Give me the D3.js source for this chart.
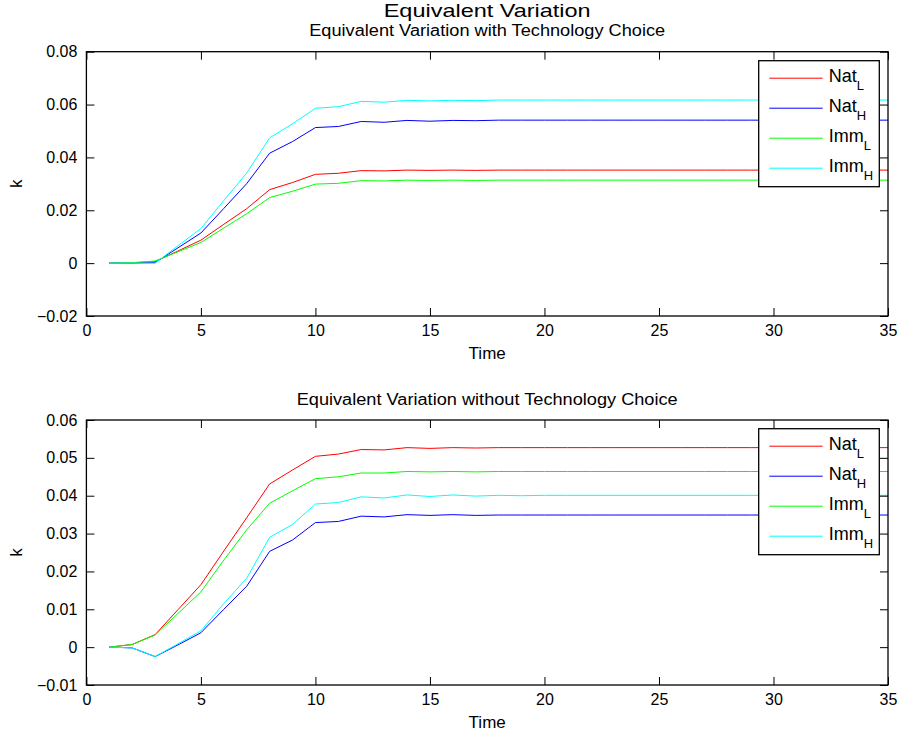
<!DOCTYPE html>
<html><head><meta charset="utf-8">
<script src="https://cdn.jsdelivr.net/npm/d3@7"></script>
<style>
html,body{margin:0;padding:0;background:#fff;}
svg text{font-family:"Liberation Sans",Arial,Helvetica,sans-serif;fill:#000;}
</style></head>
<body>
<script>
// ---------- data ----------
const time = d3.range(1, 36);
const seriesNames = ["Nat", "Nat", "Imm", "Imm"];
const seriesSubs = ["L", "H", "L", "H"];
const seriesColors = ["#ff0000", "#0000ff", "#00ff00", "#00ffff"];

function pad(arr, v) { const a = arr.slice(); while (a.length < 35) a.push(v); return a; }

// Top panel: with technology choice
const topNatL = pad([0, 0.0001, 0.0006, 0.0046, 0.0087, 0.0147, 0.0206, 0.0278, 0.0305, 0.0336, 0.0340, 0.0350, 0.0349, 0.0352, 0.0351, 0.0352, 0.0351, 0.0352], 0.0352);
const topNatH = pad([0, 0, 0.0002, 0.0058, 0.0114, 0.0207, 0.0301, 0.0416, 0.0460, 0.0513, 0.0517, 0.0536, 0.0533, 0.0540, 0.0537, 0.0540, 0.0539, 0.0541], 0.0541);
const topImmL = pad([0, 0.0002, 0.0008, 0.0043, 0.0078, 0.0133, 0.0187, 0.0248, 0.0272, 0.0299, 0.0302, 0.0312, 0.0311, 0.0314, 0.0313, 0.0314, 0.0313, 0.0314], 0.0314);
const topImmH = pad([0, 0, 0, 0.0066, 0.0131, 0.0237, 0.0341, 0.0474, 0.0527, 0.0586, 0.0592, 0.0612, 0.0609, 0.0616, 0.0614, 0.0616, 0.0615, 0.0617], 0.0617);

// Bottom panel: without technology choice
const botNatL = pad([0, 0.0007, 0.0033, 0.0099, 0.0165, 0.0254, 0.0342, 0.0431, 0.0468, 0.0504, 0.0510, 0.0522, 0.0521, 0.0527, 0.0525, 0.0527, 0.0526, 0.0527], 0.0527);
const botNatH = pad([0, -0.0002, -0.0025, 0.0006, 0.0038, 0.0100, 0.0161, 0.0253, 0.0283, 0.0329, 0.0332, 0.0346, 0.0344, 0.0350, 0.0348, 0.0350, 0.0348, 0.0349], 0.0349);
const botImmL = pad([0, 0.0007, 0.0032, 0.0089, 0.0146, 0.0230, 0.0310, 0.0380, 0.0413, 0.0445, 0.0450, 0.0460, 0.0460, 0.0464, 0.0463, 0.0464, 0.0463, 0.0464], 0.0464);
const botImmH = pad([0, -0.0002, -0.0025, 0.0009, 0.0043, 0.0115, 0.0182, 0.0290, 0.0324, 0.0378, 0.0382, 0.0397, 0.0394, 0.0402, 0.0398, 0.0402, 0.0399, 0.0401, 0.0400, 0.0401], 0.0401);

const xTicks = [0, 5, 10, 15, 20, 25, 30, 35];
const topYTicks = [-0.02, 0, 0.02, 0.04, 0.06, 0.08];
const botYTicks = [-0.01, 0, 0.01, 0.02, 0.03, 0.04, 0.05, 0.06];

const mainTitle = "Equivalent Variation";
const topTitle = "Equivalent Variation with Technology Choice";
const botTitle = "Equivalent Variation without Technology Choice";
const xLabel = "Time";
const yLabel = "k";

// ---------- drawing ----------
const W = 901, H = 737;
const svg = d3.select("body").append("svg").attr("width", W).attr("height", H);

const L = 86.4, R = 888;

function fmt(v) {
  if (v === 0) return "0";
  const s = d3.format(".2f")(Math.abs(v));
  return (v < 0 ? "\u2212" : "") + s;
}

function panel(top, bottom, yDomain, yTicks, series, title, titleY, titleLen, legTop) {
  const x = d3.scaleLinear().domain([0, 35]).range([L, R]);
  const y = d3.scaleLinear().domain(yDomain).range([bottom, top]);
  const g = svg.append("g");

  // lines
  const line = d3.line().x((d, i) => x(time[i])).y(d => y(d));
  series.forEach((s, i) => {
    g.append("path").attr("d", line(s)).attr("fill", "none")
      .attr("stroke", seriesColors[i]).attr("stroke-width", 1);
  });

  const tl = 8;
  // axes with inward ticks
  const xb = g.append("g").attr("transform", `translate(0,${bottom})`)
    .call(d3.axisBottom(x).tickValues(xTicks).tickSizeInner(-tl).tickSizeOuter(0).tickPadding(9).tickFormat(d3.format("d")));
  const xt = g.append("g").attr("transform", `translate(0,${top})`)
    .call(d3.axisTop(x).tickValues(xTicks).tickSizeInner(-tl).tickSizeOuter(0).tickFormat(""));
  const yl = g.append("g").attr("transform", `translate(${L},0)`)
    .call(d3.axisLeft(y).tickValues(yTicks).tickSizeInner(-tl).tickSizeOuter(0).tickPadding(9).tickFormat(fmt));
  const yr = g.append("g").attr("transform", `translate(${R},0)`)
    .call(d3.axisRight(y).tickValues(yTicks).tickSizeInner(-tl).tickSizeOuter(0).tickFormat(""));
  [xb, xt, yl, yr].forEach(a => {
    a.attr("font-size", null).attr("font-family", null);
    a.select(".domain").remove();
    a.selectAll(".tick line").attr("stroke", "#000").attr("stroke-width", 1);
    a.selectAll("text").style("font-size", "16px");
  });
  g.append("rect").attr("x", L).attr("y", top).attr("width", R - L).attr("height", bottom - top)
    .attr("fill", "none").attr("stroke", "#000").attr("stroke-width", 1.3);

  // labels
  g.append("text").attr("x", (L + R) / 2).attr("y", bottom + 43).attr("text-anchor", "middle")
    .style("font-size", "17px").text(xLabel);
  g.append("text").attr("transform", `translate(22,${(top + bottom) / 2}) rotate(-90)`)
    .attr("text-anchor", "middle").style("font-size", "17px").text(yLabel);
  g.append("text").attr("x", (L + R) / 2).attr("y", titleY).attr("text-anchor", "middle")
    .style("font-size", "15.8px").attr("textLength", titleLen).attr("lengthAdjust", "spacingAndGlyphs")
    .text(title);

  // legend
  const lx = 758.7, lw = 120.6, lh = 126;
  g.append("rect").attr("x", lx).attr("y", legTop).attr("width", lw).attr("height", lh)
    .attr("fill", "#fff").attr("stroke", "#000").attr("stroke-width", 1.3);
  series.forEach((s, i) => {
    const yy = legTop + 17.5 + i * 30;
    g.append("line").attr("x1", lx + 10.6).attr("x2", lx + 64).attr("y1", yy).attr("y2", yy)
      .attr("stroke", seriesColors[i]).attr("stroke-width", 1);
    const t = g.append("text").attr("x", lx + 70).attr("y", yy + 3.5).style("font-size", "18px");
    t.append("tspan").text(seriesNames[i]);
    t.append("tspan").style("font-size", "13px").attr("dy", 8).text(seriesSubs[i]);
  });
}

panel(51.7, 316, [-0.02, 0.08], topYTicks, [topNatL, topNatH, topImmL, topImmH], topTitle, 35.5, 356, 60.7);
panel(420, 685, [-0.01, 0.06], botYTicks, [botNatL, botNatH, botImmL, botImmH], botTitle, 405, 381, 428.7);

svg.append("text").attr("x", (L + R) / 2).attr("y", 17).attr("text-anchor", "middle")
  .style("font-size", "18.5px").attr("textLength", 207).attr("lengthAdjust", "spacingAndGlyphs")
  .text(mainTitle);
</script>
</body></html>
